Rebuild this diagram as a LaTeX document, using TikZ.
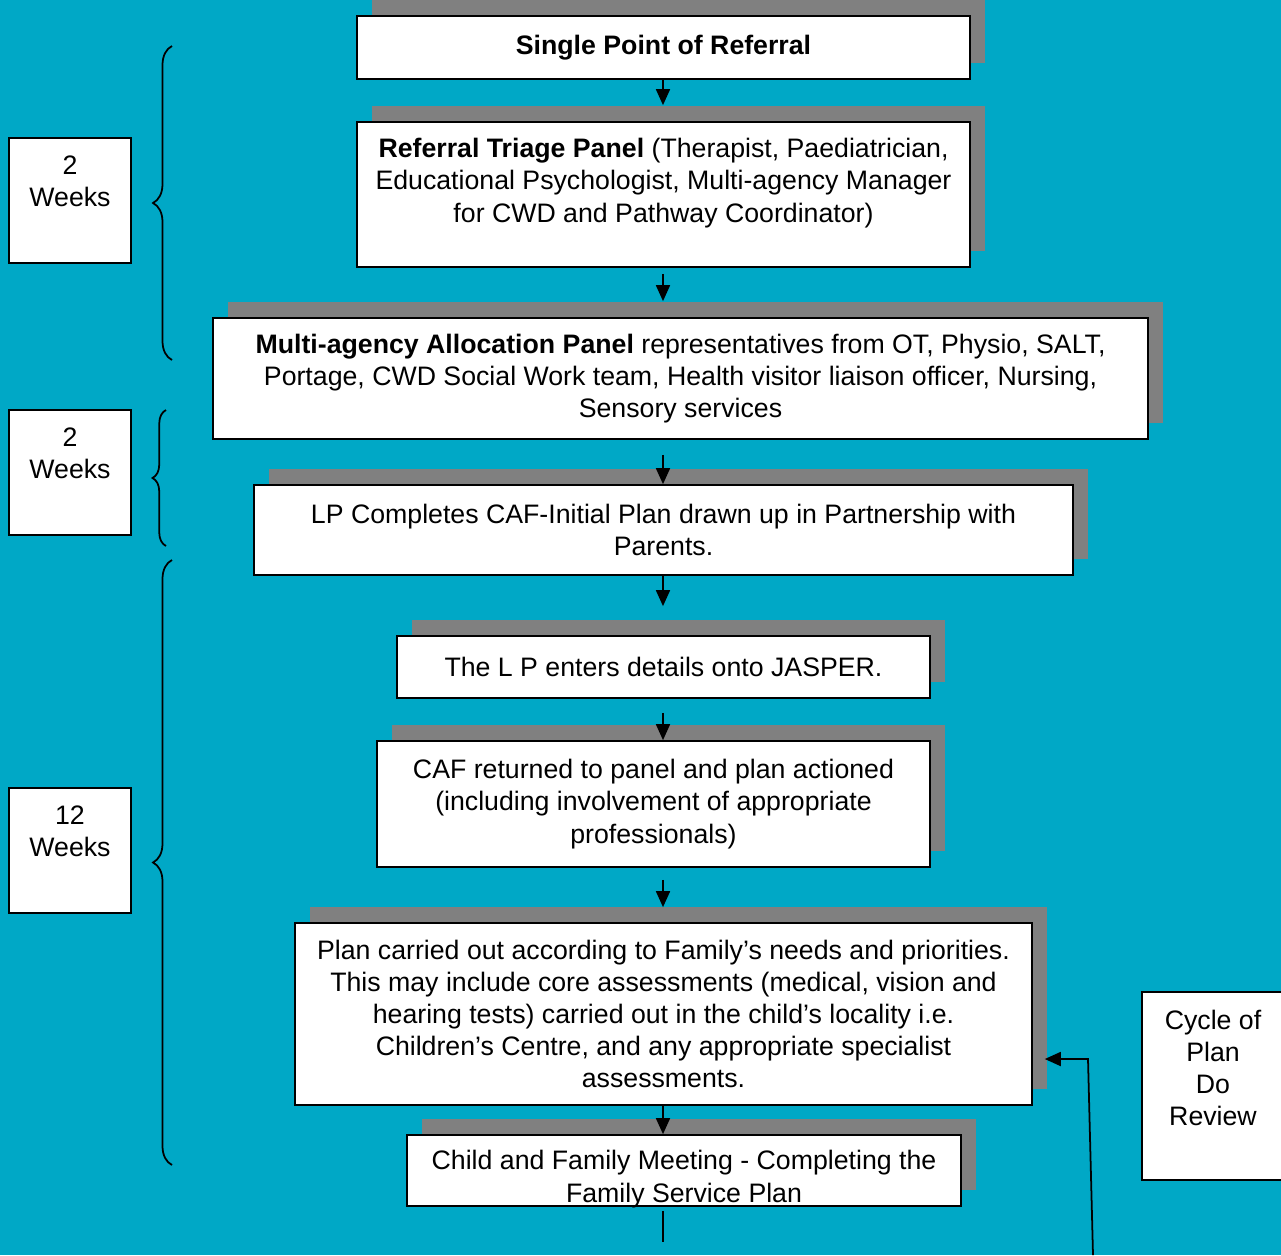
\documentclass[tikz,border=0pt]{standalone}
\usepackage{fontspec}
\setmainfont{Liberation Sans}
\usetikzlibrary{arrows.meta,shadows,decorations.pathreplacing}
\definecolor{panelteal}{RGB}{0,168,198}
\definecolor{shadegray}{RGB}{128,128,128}

\tikzset{
	box/.style={draw=black, line width=1pt, fill=white, inner sep=0pt, align=center, font=\fontsize{15.2}{18.3}\selectfont},
	shadowbox/.style={box, drop shadow={shadow xshift=0.3cm, shadow yshift=0.32cm, fill=shadegray, opacity=1}},
	txt/.style={inner sep=0pt, align=center, font=\fontsize{15.2}{18.3}\selectfont},
	flow/.style={line width=1pt, -{Triangle[length=0.32cm,width=0.28cm]}},
	bracket/.style={line width=1pt, decorate, decoration={brace, amplitude=#1}},
}

\begin{document}
\begin{tikzpicture}[x=0.02cm, y=-0.02cm]
		\useasboundingbox (0,0) rectangle (1281,1255);
		\fill[panelteal] (0,0) rectangle (1281,1255);

		% time boxes on the left
		\node[box, minimum width=2.44cm, minimum height=2.5cm] (wk1) at (70,200.5) {};
		\node[txt] (wk1-t) at (70,181) {2\\Weeks};
		\node[box, minimum width=2.44cm, minimum height=2.5cm] (wk2) at (70,472.5) {};
		\node[txt] (wk2-t) at (70,453) {2\\Weeks};
		\node[box, minimum width=2.44cm, minimum height=2.5cm] (wk3) at (70,850.5) {};
		\node[txt] (wk3-t) at (70,831) {12\\Weeks};

		% braces
		\coordinate (br1-a) at (172,360);
		\coordinate (br1-b) at (172,46);
		\draw[bracket=0.38cm] (br1-a) -- (br1-b);
		\coordinate (br2-a) at (166,546);
		\coordinate (br2-b) at (166,410);
		\draw[bracket=0.27cm] (br2-a) -- (br2-b);
		\coordinate (br3-a) at (172,1165);
		\coordinate (br3-b) at (172,560);
		\draw[bracket=0.38cm] (br3-a) -- (br3-b);

		% pathway boxes
		\node[shadowbox, minimum width=12.26cm, minimum height=1.26cm] (spr) at (663.5,47.5) {\textbf{Single Point of Referral}};

		\node[shadowbox, minimum width=12.26cm, minimum height=2.9cm] (tri) at (663.5,194.5) {};
		\node[txt] (tri-t) at (663.5,183) {\textbf{Referral Triage Panel} (Therapist, Paediatrician,\\Educational Psychologist, Multi-agency Manager\\for CWD and Pathway Coordinator)};

		\node[shadowbox, minimum width=18.7cm, minimum height=2.42cm] (mul) at (680.5,378.5) {\textbf{Multi-agency Allocation Panel} representatives from OT, Physio, SALT,\\Portage, CWD Social Work team, Health visitor liaison officer, Nursing,\\Sensory services};

		\node[shadowbox, minimum width=16.38cm, minimum height=1.8cm] (lpc) at (663.5,530) {LP Completes CAF-Initial Plan drawn up in Partnership with\\Parents.};

		\node[shadowbox, minimum width=10.66cm, minimum height=1.24cm] (jas) at (663.5,667) {The L P enters details onto JASPER.};

		\node[shadowbox, minimum width=11.06cm, minimum height=2.52cm] (caf) at (653.5,804) {CAF returned to panel and plan actioned\\(including involvement of appropriate\\professionals)};

		\node[shadowbox, minimum width=14.74cm, minimum height=3.64cm] (pln) at (663.5,1014) {Plan carried out according to Family’s needs and priorities.\\This may include core assessments (medical, vision and\\hearing tests) carried out in the child’s locality i.e.\\Children’s Centre, and any appropriate specialist\\assessments.};

		\node[shadowbox, minimum width=11.08cm, minimum height=1.42cm] (cfm) at (684,1170.5) {};
		\node[txt] (cfm-t) at (684,1179) {Child and Family Meeting - Completing the\\Family Service Plan};

		% cycle box on the right
		\node[box, minimum width=2.96cm, minimum height=3.76cm] (cyc) at (1216,1086) {};
		\node[txt] (cyc-t) at (1213,1068) {Cycle of\\Plan\\Do\\Review};

		% arrows down the middle
		\coordinate (spine) at (663,0);
		\draw[flow, shorten >=0.32cm] (spine |- spr.south) -- (spine |- tri.north);
		\draw[flow, shorten <=0.12cm, shorten >=0.32cm] (spine |- tri.south) -- (spine |- mul.north);
		\draw[flow, shorten <=0.3cm] (spine |- mul.south) -- (spine |- lpc.north);
		\draw[flow, shorten >=0.58cm] (spine |- lpc.south) -- (spine |- jas.north);
		\draw[flow, shorten <=0.28cm] (spine |- jas.south) -- (spine |- caf.north);
		\draw[flow, shorten <=0.24cm, shorten >=0.3cm] (spine |- caf.south) -- (spine |- pln.north);
		\draw[flow] (spine |- pln.south) -- (spine |- cfm.north);
		\coordinate (tail) at (663,1242);
		\draw[line width=1pt, shorten <=0.08cm] (spine |- cfm.south) -- (tail);

		% loop back into the plan
		\coordinate (loop-in) at (1093,1255);
		\coordinate (loop-turn) at (1088,1059);
		\coordinate (pln-edge) at ([xshift=0.24cm]pln.east);
		\draw[flow] (loop-in) -- (loop-turn) -- (pln-edge |- loop-turn);
	\end{tikzpicture}
\end{document}
